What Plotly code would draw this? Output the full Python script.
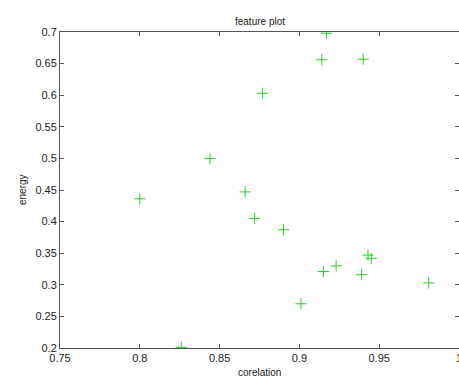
import plotly.graph_objects as go

corelation = [0.917, 0.914, 0.940, 0.877, 0.844, 0.800, 0.866, 0.872, 0.890,
              0.943, 0.945, 0.915, 0.923, 0.939, 0.981, 0.901, 0.826]
energy = [0.698, 0.656, 0.657, 0.603, 0.500, 0.436, 0.447, 0.405, 0.387,
          0.347, 0.342, 0.321, 0.330, 0.316, 0.303, 0.270, 0.201]

x_ticks = [0.75, 0.8, 0.85, 0.9, 0.95, 1.0]
x_ticklabels = ["0.75", "0.8", "0.85", "0.9", "0.95", "1"]
y_ticks = [0.2, 0.25, 0.3, 0.35, 0.4, 0.45, 0.5, 0.55, 0.6, 0.65, 0.7]
y_ticklabels = ["0.2", "0.25", "0.3", "0.35", "0.4", "0.45", "0.5", "0.55", "0.6", "0.65", "0.7"]

FONT = "Liberation Sans, Arial"
TXT = "#222222"

fig = go.Figure()
fig.add_trace(go.Scatter(
    x=corelation, y=energy, mode="markers",
    marker=dict(symbol="cross-thin", size=8, line=dict(width=1, color="#2ccc2c"),
                color="#2ccc2c"),
    showlegend=False, hoverinfo="skip"))

axis_common = dict(showgrid=False, zeroline=False, showline=True, linecolor="#555555",
                   linewidth=1, mirror="ticks", ticks="inside", ticklen=4,
                   tickcolor="#555555", automargin=False,
                   tickfont=dict(family=FONT, size=11, color=TXT))

fig.update_layout(
    width=459, height=378,
    margin=dict(l=60, r=0, t=32, b=30, autoexpand=False),
    paper_bgcolor="white", plot_bgcolor="white",
    title=dict(text="feature plot", x=260 / 459, xanchor="center", xref="container",
               y=1 - 21 / 378, yanchor="middle", yref="container",
               font=dict(family=FONT, size=10, color=TXT)),
    xaxis=dict(range=[0.75, 1.0], tickvals=x_ticks, ticktext=x_ticklabels,
               ticklabeloverflow="allow", **axis_common),
    yaxis=dict(range=[0.2, 0.7], tickvals=y_ticks, ticktext=y_ticklabels,
               **axis_common),
    annotations=[
        dict(text="corelation", xref="paper", yref="paper", x=0.5, y=-24 / 316,
             xanchor="center", yanchor="middle", showarrow=False,
             font=dict(family=FONT, size=10, color=TXT)),
        dict(text="energy", xref="paper", yref="paper", x=-38 / 399, y=0.5,
             xanchor="center", yanchor="middle", textangle=-90, showarrow=False,
             font=dict(family=FONT, size=10, color=TXT)),
    ],
)

fig.write_html("out.html", config={"displayModeBar": False},
               post_script="document.body.style.margin='0';document.body.style.overflow='hidden';")
